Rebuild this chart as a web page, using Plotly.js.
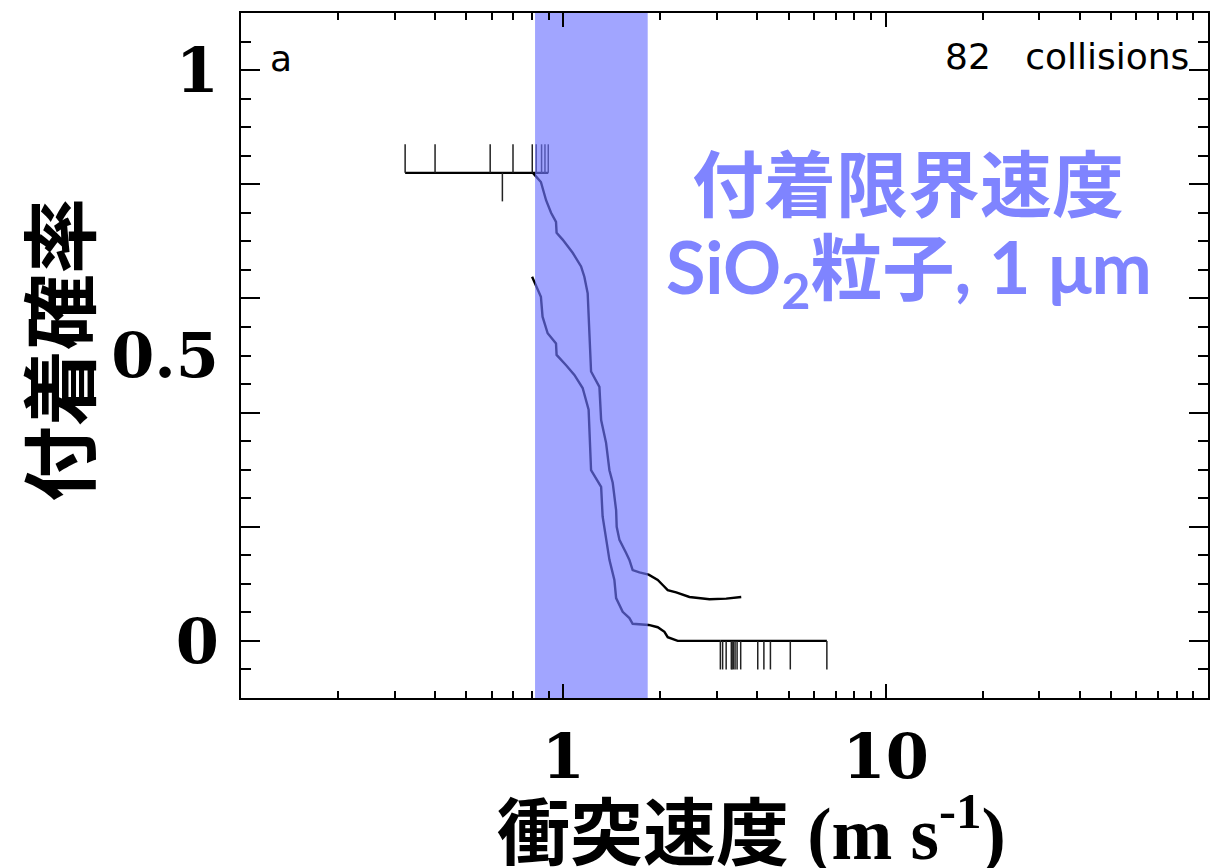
<!DOCTYPE html>
<html>
<head>
<meta charset="utf-8">
<script src="https://cdn.plot.ly/plotly-3.0.1.min.js"></script>
<style>
html,body{margin:0;padding:0;background:#ffffff;}
#chart{width:1225px;height:868px;}
</style>
</head>
<body>
<div id="chart"></div>
<script>
// ---- data ----
const upperX = [0.807, 0.852, 0.884, 0.916, 0.949, 0.953, 0.995, 1.069, 1.135, 1.162, 1.190, 1.198, 1.219, 1.294, 1.310, 1.357, 1.390, 1.423, 1.458, 1.464, 1.493, 1.566, 1.603, 1.641, 1.722, 1.840, 1.963, 2.034, 2.108, 2.239, 2.462, 2.841, 3.201, 3.564];
const upperY = [0.819, 0.804, 0.772, 0.750, 0.734, 0.715, 0.703, 0.680, 0.656, 0.638, 0.609, 0.568, 0.472, 0.445, 0.387, 0.347, 0.299, 0.277, 0.229, 0.200, 0.177, 0.154, 0.142, 0.124, 0.120, 0.116, 0.107, 0.098, 0.089, 0.085, 0.077, 0.073, 0.074, 0.077];
const lowerX = [0.800, 0.813, 0.852, 0.862, 0.894, 0.949, 0.953, 1.020, 1.082, 1.148, 1.198, 1.219, 1.310, 1.324, 1.357, 1.390, 1.440, 1.458, 1.528, 1.603, 1.641, 1.806, 1.840, 1.963, 2.059, 2.108, 2.264, 3.07];
const lowerY = [0.638, 0.629, 0.603, 0.568, 0.539, 0.521, 0.501, 0.483, 0.466, 0.443, 0.405, 0.299, 0.270, 0.218, 0.183, 0.142, 0.107, 0.075, 0.051, 0.040, 0.030, 0.028, 0.028, 0.024, 0.016, 0.0065, 0, 0];
// individual collisions (rug marks)
const stickX = [0.323, 0.400, 0.593, 0.698, 0.801, 0.824, 0.856, 0.877, 0.898];
const stickLowX = [0.647];
const bounceX = [3.07, 3.12, 3.20, 3.32, 3.34, 3.37, 3.41, 3.46, 3.55, 4.01, 4.19, 4.39, 5.06, 6.57];
const stickLevel = 0.82;
const bounceLevel = 0;
const rugLen = 0.05;
// critical sticking velocity band (m/s)
const bandRange = [0.817, 1.827];
// axis ticks
const xMajor = [1, 10];
const xMajorText = ['1', '10'];
const xMinor = [0.2,0.3,0.4,0.5,0.6,0.7,0.8,0.9,2,3,4,5,6,7,8,9,20,30,40,50,60,70,80,90];
const yMajor = [0, 0.2, 0.4, 0.6, 0.8, 1];
const yMinor = [-0.05,0.05,0.1,0.15,0.25,0.3,0.35,0.45,0.5,0.55,0.65,0.7,0.75,0.85,0.9,0.95,1.05];
const yLabelVals = [0, 0.5, 1];
const yLabelText = ['0', '0.5', '1'];
const nCollisions = 82;
const xTitle = '衝突速度 (m s<sup>-1</sup>)';
const yTitle = '付着確率';
const noteLine1 = '付着限界速度';
const noteLine2 = 'SiO<sub>2</sub>粒子, 1 μm';

// ---- build rug segments ----
function rug(xs, base, len) {
  const x = [], y = [];
  xs.forEach(v => { x.push(v, v, null); y.push(base, base + len, null); });
  return {x, y};
}
const rugUp = rug(stickX, stickLevel, rugLen);
const rugDownS = rug(stickLowX, stickLevel, -rugLen);
const rugDownB = rug(bounceX, bounceLevel, -rugLen);

const black = '#000000';
const lw = 2.4;
const traces = [
  {x: upperX, y: upperY, mode: 'lines', line: {color: black, width: lw}, hoverinfo: 'skip'},
  {x: lowerX, y: lowerY, mode: 'lines', line: {color: black, width: lw}, hoverinfo: 'skip'},
  {x: [Math.min(...stickX), Math.max(...stickX)], y: [stickLevel, stickLevel], mode: 'lines', line: {color: black, width: lw}, hoverinfo: 'skip'},
  {x: rugUp.x, y: rugUp.y, mode: 'lines', line: {color: '#222', width: 1.5}, hoverinfo: 'skip'},
  {x: rugDownS.x, y: rugDownS.y, mode: 'lines', line: {color: '#222', width: 1.5}, hoverinfo: 'skip'},
  {x: [Math.min(...bounceX), Math.max(...bounceX)], y: [bounceLevel, bounceLevel], mode: 'lines', line: {color: black, width: lw}, hoverinfo: 'skip'},
  {x: rugDownB.x, y: rugDownB.y, mode: 'lines', line: {color: '#222', width: 1.5}, hoverinfo: 'skip'},
  {x: [bandRange[0], bandRange[1], bandRange[1], bandRange[0], bandRange[0]],
   y: [-0.2, -0.2, 1.2, 1.2, -0.2], mode: 'lines', fill: 'toself',
   fillcolor: 'rgba(110,116,255,0.65)', line: {width: 0, color: 'rgba(0,0,0,0)'}, hoverinfo: 'skip'}
];
// overlay trace to bind yaxis2 (no visible marks)
traces.push({x: [null], y: [null], yaxis: 'y2', mode: 'lines', hoverinfo: 'skip', showlegend: false});

const tickFont = {family: "'DejaVu Serif', serif", size: 62, color: black, weight: 'bold'};
const titleFont = {family: "'Liberation Serif', 'Noto Sans CJK JP', serif", size: 73, color: black, weight: 'bold'};
const blueFont = {family: "Lato, 'Noto Sans CJK JP', sans-serif", size: 72, color: 'rgb(127,132,255)', weight: 'bold'};
const thinFont = {family: "'DejaVu Sans', sans-serif", size: 36, color: black};

const layout = {
  width: 1225, height: 868,
  margin: {l: 241, r: 17, t: 13, b: 170, pad: 0},
  paper_bgcolor: '#ffffff', plot_bgcolor: '#ffffff',
  showlegend: false,
  xaxis: {
    type: 'log', range: [-1, 2], autorange: false,
    showline: true, linecolor: black, linewidth: 2, mirror: 'ticks',
    ticks: 'inside', ticklen: 14, tickwidth: 2, tickcolor: black,
    tickmode: 'array', tickvals: xMajor, ticktext: xMajorText,
    tickfont: tickFont, ticklabelstandoff: 4,
    minor: {tickmode: 'array', tickvals: xMinor, ticks: 'inside', ticklen: 7, tickwidth: 2, tickcolor: black, showgrid: false},
    showgrid: false, zeroline: false, automargin: false
  },
  yaxis: {
    range: [-0.1, 1.1], autorange: false,
    showline: true, linecolor: black, linewidth: 2, mirror: 'ticks',
    ticks: 'inside', ticklen: 19, tickwidth: 2, tickcolor: black,
    tickmode: 'array', tickvals: yMajor, showticklabels: false,
    minor: {tickmode: 'array', tickvals: yMinor, ticks: 'inside', ticklen: 10, tickwidth: 2, tickcolor: black, showgrid: false},
    showgrid: false, zeroline: false, automargin: false
  },
  yaxis2: {
    overlaying: 'y', anchor: 'x', side: 'left',
    range: [-0.1, 1.1], autorange: false,
    showline: false, ticks: '', tickmode: 'array', tickvals: yLabelVals, ticktext: yLabelText,
    tickfont: tickFont, ticklabelstandoff: 21,
    showgrid: false, zeroline: false, automargin: false
  },
  annotations: [
    {xref: 'paper', yref: 'paper', x: (751 - 241) / 967, y: (698 - 828) / 685, xanchor: 'center', yanchor: 'middle', text: xTitle, showarrow: false, font: titleFont},
    {xref: 'paper', yref: 'paper', x: (63 - 241) / 967, y: (698 - 350) / 685, xanchor: 'center', yanchor: 'middle', textangle: -90, text: yTitle, showarrow: false, font: {...titleFont, size: 76}},
    {xref: 'paper', yref: 'paper', x: 0.028, y: 0.934, xanchor: 'left', yanchor: 'middle', text: 'a', showarrow: false, font: thinFont},
    {xref: 'paper', yref: 'paper', x: 0.982, y: 0.936, xanchor: 'right', yanchor: 'middle', text: nCollisions + '   collisions', showarrow: false, font: thinFont},
    {xref: 'paper', yref: 'paper', x: (908 - 241) / 967, y: (698 - 183) / 685, xanchor: 'center', yanchor: 'middle', text: noteLine1, showarrow: false, font: blueFont},
    {xref: 'paper', yref: 'paper', x: (909 - 241) / 967, y: (698 - 271) / 685, xanchor: 'center', yanchor: 'middle', text: noteLine2, showarrow: false, font: blueFont}
  ]
};

Plotly.newPlot('chart', traces, layout, {displayModeBar: false, staticPlot: true});
</script>
</body>
</html>
